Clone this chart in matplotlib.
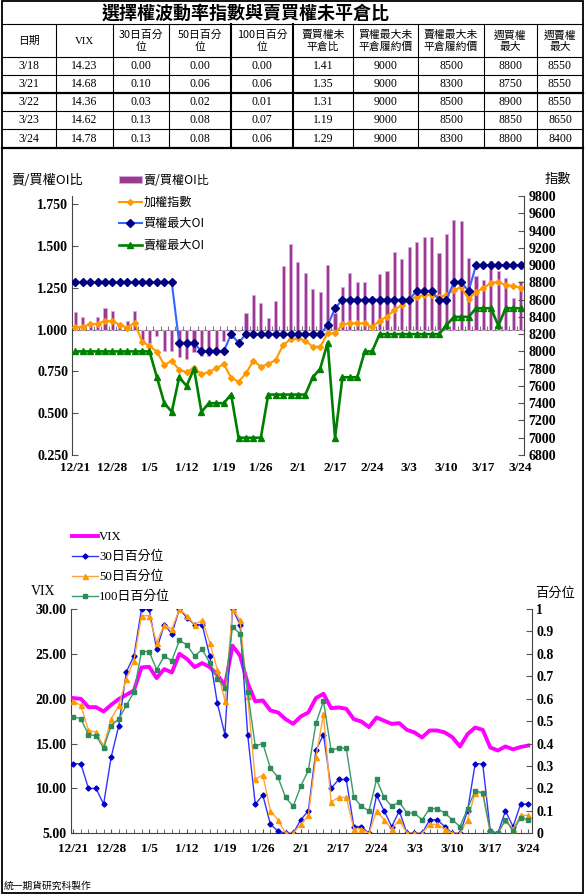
import matplotlib
matplotlib.use("Agg")
import matplotlib.pyplot as plt
from matplotlib.patches import Rectangle
from matplotlib.ticker import FormatStrFormatter, FuncFormatter

SERIF = ["Liberation Serif", "Noto Sans CJK TC"]
CJK = ["Noto Sans CJK TC", "Liberation Serif"]

# trading days 12/21 - 3/24
dates = ["12/21", "12/22", "12/23", "12/24", "12/25", "12/28", "12/29", "12/30", "12/31", "1/4",
         "1/5", "1/6", "1/7", "1/8", "1/11", "1/12", "1/13", "1/14", "1/15", "1/18",
         "1/19", "1/20", "1/21", "1/22", "1/25", "1/26", "1/27", "1/28", "1/29", "1/30",
         "2/1", "2/2", "2/3", "2/15", "2/16", "2/17", "2/18", "2/19", "2/22", "2/23",
         "2/24", "2/25", "2/26", "3/1", "3/2", "3/3", "3/4", "3/7", "3/8", "3/9",
         "3/10", "3/11", "3/14", "3/15", "3/16", "3/17", "3/18", "3/21", "3/22", "3/23",
         "3/24"]

# top chart
pc_ratio = [1.107, 1.077, 1.03, 1.077, 1.128, 1.113, 1.02, 1.052, 1.113, 0.94,
            0.92, 0.965, 0.87, 0.875, 0.835, 0.822, 0.868, 0.842, 0.845, 0.87,
            0.93, 0.95, 0.99, 1.10, 1.21, 1.158, 1.067, 1.17, 1.383, 1.51,
            1.405, 1.342, 1.242, 1.226, 1.386, 1.097, 1.256, 1.34, 1.283, 1.286,
            1.156, 1.332, 1.352, 1.465, 1.421, 1.495, 1.525, 1.555, 1.555, 1.459,
            1.575, 1.654, 1.648, 1.429, 1.322, 1.30, 1.41, 1.35, 1.31, 1.19,
            1.29]
taiex = [8279, 8286, 8314, 8321, 8352, 8352, 8306, 8275, 8333, 8113,
         8063, 7997, 7842, 7892, 7785, 7761, 7811, 7735, 7761, 7804,
         7854, 7696, 7649, 7746, 7893, 7823, 7854, 7900, 8074, 8140,
         8151, 8124, 8055, 8055, 8209, 8209, 8314, 8325, 8325, 8325,
         8279, 8356, 8402, 8480, 8537, 8595, 8634, 8653, 8653, 8626,
         8653, 8711, 8742, 8607, 8692, 8730, 8796, 8804, 8769, 8758,
         8738]
call_max_oi = [8800] * 14 + [8100] * 3 + [8000] * 4 + [8200, 8100] + [8200] * 11 + \
              [8300, 8500] + [8600] * 10 + [8700] * 3 + [8600] * 2 + [8800] * 2 + [8700] + [9000] * 7
put_max_oi = [8000] * 11 + [7700, 7400, 7300, 7700, 7600, 7800, 7300, 7400, 7400, 7400, 7500] + \
             [7000] * 4 + [7500] * 6 + [7700, 7800, 8100, 7000] + [7700] * 3 + [8000] * 2 + \
             [8200] * 9 + [8300] + [8400] * 3 + [8500] * 3 + [8300] + [8500] * 3

# bottom chart
vix = [20.07, 19.99, 19.06, 19.06, 18.58, 19.32, 19.96, 20.44, 20.92, 23.49,
       23.56, 22.30, 23.30, 22.93, 25.01, 24.42, 23.53, 23.97, 23.53, 22.67,
       21.44, 25.91, 24.79, 21.74, 19.70, 19.81, 18.69, 18.47, 17.72, 17.20,
       18.02, 18.47, 20.07, 20.55, 18.95, 19.03, 18.88, 17.72, 17.46, 16.83,
       17.91, 17.54, 17.20, 17.28, 16.53, 16.24, 15.68, 16.46, 16.46, 16.24,
       15.71, 14.67, 16.05, 16.79, 16.53, 14.56, 14.23, 14.68, 14.36, 14.62,
       14.78]
pct30 = [0.31, 0.31, 0.20, 0.20, 0.13, 0.34, 0.48, 0.72, 0.79, 1.0,
         1.0, 0.82, 0.93, 0.89, 1.0, 0.96, 0.93, 0.93, 0.79, 0.58,
         0.44, 1.0, 0.93, 0.44, 0.13, 0.17, 0.04, 0.01, 0.0, 0.0,
         0.06, 0.10, 0.37, 0.44, 0.20, 0.24, 0.24, 0.03, 0.03, 0.0,
         0.17, 0.10, 0.03, 0.10, 0.0, 0.0, 0.0, 0.06, 0.06, 0.03,
         0.0, 0.0, 0.10, 0.31, 0.31, 0.01, 0.00, 0.10, 0.03, 0.13,
         0.13]
pct50 = [0.59, 0.57, 0.46, 0.45, 0.39, 0.51, 0.57, 0.69, 0.77, 0.97,
         0.97, 0.85, 0.93, 0.91, 1.0, 0.97, 0.93, 0.95, 0.85, 0.73,
         0.59, 1.0, 0.95, 0.61, 0.24, 0.26, 0.10, 0.06, 0.0, 0.0,
         0.04, 0.08, 0.34, 0.53, 0.14, 0.16, 0.16, 0.02, 0.02, 0.0,
         0.10, 0.06, 0.02, 0.06, 0.0, 0.0, 0.0, 0.04, 0.04, 0.02,
         0.0, 0.0, 0.06, 0.18, 0.18, 0.0, 0.00, 0.06, 0.02, 0.08,
         0.08]
pct100 = [0.52, 0.51, 0.44, 0.435, 0.38, 0.48, 0.51, 0.57, 0.63, 0.81,
          0.81, 0.73, 0.79, 0.77, 0.86, 0.84, 0.79, 0.82, 0.76, 0.69,
          0.65, 0.92, 0.89, 0.63, 0.39, 0.40, 0.29, 0.25, 0.16, 0.12,
          0.21, 0.28, 0.49, 0.59, 0.37, 0.38, 0.38, 0.16, 0.12, 0.10,
          0.24, 0.16, 0.12, 0.14, 0.09, 0.09, 0.06, 0.11, 0.11, 0.09,
          0.06, 0.03, 0.11, 0.19, 0.18, 0.01, 0.00, 0.06, 0.01, 0.07,
          0.06]

# table at top
tbl_headers = ["日期", "VIX", "30日百分\n位", "50日百分\n位", "100日百分\n位", "賣買權未\n平倉比",
               "買權最大未\n平倉履約價", "賣權最大未\n平倉履約價", "週買權\n最大", "週賣權\n最大"]
tbl_dates = ["3/18", "3/21", "3/22", "3/23", "3/24"]
tbl_vix = [14.23, 14.68, 14.36, 14.62, 14.78]
tbl_p30 = [0.00, 0.10, 0.03, 0.13, 0.13]
tbl_p50 = [0.00, 0.06, 0.02, 0.08, 0.08]
tbl_p100 = [0.00, 0.06, 0.01, 0.07, 0.06]
tbl_pc = [1.41, 1.35, 1.31, 1.19, 1.29]
tbl_call = [9000, 9000, 9000, 9000, 9000]
tbl_put = [8500, 8300, 8500, 8500, 8300]
tbl_wcall = [8800, 8750, 8900, 8850, 8800]
tbl_wput = [8550, 8550, 8550, 8650, 8400]

W, H = 586, 896
fig = plt.figure(figsize=(W / 100, H / 100), dpi=100)

# ---- background: frame, table, footer (pixel coords)
bg = fig.add_axes([0, 0, 1, 1])
bg.set_xlim(0, W)
bg.set_ylim(H, 0)
bg.axis("off")
bg.add_patch(Rectangle((1.5, 1.5), 581.5, 891.5, fill=False, lw=1.3, ec="black"))

col_edges = [1.5, 56, 113, 169, 231, 293, 353, 418, 484, 537, 583]
row_edges = [1.5, 24, 57, 75, 93, 111, 129.5, 148]
for y in row_edges[1:]:
    lw = 1.6 if y in (93, 148) else 0.8
    bg.plot([1.5, 583], [y, y], color="black", lw=lw)
for c in col_edges[1:-1]:
    lw = 1.5 if c in (231, 293) else 0.8
    bg.plot([c, c], [24, 148], color="black", lw=lw)

bg.text(246, 13, "選擇權波動率指數與賣買權未平倉比", family=CJK, fontsize=13,
        fontweight="bold", ha="center", va="center")
for j, h in enumerate(tbl_headers):
    cx = (col_edges[j] + col_edges[j + 1]) / 2
    fam = SERIF if h == "VIX" else CJK
    bg.text(cx, 41, h, family=fam, fontsize=7.8, ha="center", va="center", linespacing=1.25)

rows = []
for r in range(len(tbl_dates)):
    rows.append([tbl_dates[r], f"{tbl_vix[r]:.2f}", f"{tbl_p30[r]:.2f}", f"{tbl_p50[r]:.2f}",
                 f"{tbl_p100[r]:.2f}", f"{tbl_pc[r]:.2f}", str(tbl_call[r]), str(tbl_put[r]),
                 str(tbl_wcall[r]), str(tbl_wput[r])])
for r, row in enumerate(rows):
    cy = (row_edges[r + 2] + row_edges[r + 3]) / 2
    for j, val in enumerate(row):
        cx = (col_edges[j] + col_edges[j + 1]) / 2
        bg.text(cx, cy, val, family=SERIF, fontsize=8.5, ha="center", va="center")

bg.text(4, 886, "統一期貨研究科製作", family=CJK, fontsize=7, ha="left", va="center")

x = list(range(len(dates)))
xlabels = [dates[i] for i in range(0, len(dates), 5)]
ytick_font = dict(family=SERIF, fontsize=10, fontweight="bold")
xtick_font = dict(family=SERIF, fontsize=9.5, fontweight="bold")

# ---- top chart
ax1 = fig.add_axes([72.3 / W, 1 - 455 / H, 452 / W, 259 / H])
bars = ax1.bar(x, [v - 1 for v in pc_ratio], bottom=1, width=0.42, color="#9A3B8E",
               edgecolor="#DDA8E6", linewidth=0.6, label="賣/買權OI比", zorder=2)
ax1.set_xlim(-0.4, 60.5)
ax1.set_ylim(0.25, 1.8)
ax1.set_yticks([0.25, 0.5, 0.75, 1.0, 1.25, 1.5, 1.75])
ax1.yaxis.set_major_formatter(FormatStrFormatter("%.3f"))
ax1.set_xticks(range(0, len(dates), 5))
ax1.set_xticklabels(xlabels)
ax1.tick_params(axis="x", length=0, pad=5)
ax1.tick_params(axis="y", direction="in", length=4, color="#555555", pad=3)
for lab in ax1.get_xticklabels():
    lab.set(**xtick_font)
for lab in ax1.get_yticklabels():
    lab.set(**ytick_font)
for s in ("top", "bottom", "right"):
    ax1.spines[s].set_visible(False)
ax1.spines["left"].set_color("#444444")

base = ax1.secondary_xaxis((1.0 - 0.25) / (1.8 - 0.25))
base.set_xticks([i + 0.5 for i in range(-1, len(dates))])
base.tick_params(direction="in", length=3, color="#808080", labelbottom=False, labeltop=False)
for s in base.spines.values():
    s.set_color("#808080")

ax2 = ax1.twinx()
ln_idx, = ax2.plot(x, taiex, color="#FF9900", lw=1.5, marker="D", ms=3, mec="#FF9900",
                   mfc="#FF9900", label="加權指數")
ln_call, = ax2.plot(x, call_max_oi, color="#3366FF", lw=1.5, marker="D", ms=4.2, mec="#000080",
                    mfc="#000080", label="買權最大OI")
ln_put, = ax2.plot(x, put_max_oi, color="#008000", lw=1.9, marker="^", ms=5, mec="#008000",
                   mfc="#008000", label="賣權最大OI")
ax2.set_ylim(6800, 9800)
ax2.set_yticks(range(6800, 9801, 200))
ax2.tick_params(axis="y", direction="in", length=4, color="#555555", pad=3)
for lab in ax2.get_yticklabels():
    lab.set(**ytick_font)
for s in ("top", "bottom", "left"):
    ax2.spines[s].set_visible(False)
ax2.spines["right"].set_color("#444444")

fig.text(47 / W, 1 - 180 / H, "賣/買權OI比", family=CJK, fontsize=9.5, ha="center", va="center")
fig.text(558 / W, 1 - 179 / H, "指數", family=CJK, fontsize=9.5, ha="center", va="center")
fig.legend(handles=[bars, ln_idx, ln_call, ln_put], loc="upper left",
           bbox_to_anchor=(119 / W, 1 - 174 / H), frameon=False, prop=dict(family=CJK, size=8.7),
           handlelength=1.9, handletextpad=0.15, labelspacing=0.72, borderpad=0, borderaxespad=0,
           numpoints=1, handleheight=0.55)

# ---- bottom chart
ax3 = fig.add_axes([71 / W, 1 - 833.3 / H, 461 / W, 224.3 / H])
ln_vix, = ax3.plot(x, vix, color="#FF00FF", lw=2.8, label="VIX", zorder=3)
ax3.set_xlim(-0.3, 60.5)
ax3.set_ylim(5, 30)
ax3.set_yticks(range(5, 31, 5))
ax3.yaxis.set_major_formatter(FormatStrFormatter("%.2f"))
ax3.set_xticks(range(0, len(dates), 5))
ax3.set_xticklabels(xlabels)
ax3.set_xticks(x, minor=True)
ax3.tick_params(axis="x", which="both", direction="in", length=3, color="#555555", pad=7)
ax3.tick_params(axis="y", direction="in", length=4, color="#555555", pad=3)
for lab in ax3.get_xticklabels():
    lab.set(**xtick_font)
for lab in ax3.get_yticklabels():
    lab.set(**ytick_font)
ax3.spines["top"].set_visible(False)
ax3.spines["right"].set_visible(False)
ax3.spines["left"].set_color("#444444")
ax3.spines["bottom"].set_color("#444444")

ax4 = ax3.twinx()
ln30, = ax4.plot(x, pct30, color="#3333FF", lw=1.0, marker="D", ms=2.6, mec="#0000CC",
                 mfc="#0000CC", label="30日百分位")
ln50, = ax4.plot(x, pct50, color="#FFA53A", lw=1.0, marker="^", ms=3.6, mec="#FF9900",
                 mfc="#FF9900", label="50日百分位")
ln100, = ax4.plot(x, pct100, color="#3A9A6A", lw=1.0, marker="s", ms=3.2, mec="#2E8B57",
                  mfc="#2E8B57", label="100日百分位")
ax4.set_ylim(0, 1)
ax4.set_yticks([i / 10 for i in range(11)])
ax4.yaxis.set_major_formatter(FuncFormatter(lambda v, p: f"{v:g}"))
ax4.tick_params(axis="y", direction="in", length=4, color="#555555", pad=3)
for lab in ax4.get_yticklabels():
    lab.set(**ytick_font)
for s in ("top", "bottom", "left"):
    ax4.spines[s].set_visible(False)
ax4.spines["right"].set_color("#444444")

fig.text(43 / W, 1 - 591 / H, "VIX", family=SERIF, fontsize=10, ha="center", va="center")
fig.text(555 / W, 1 - 593 / H, "百分位", family=CJK, fontsize=9.5, ha="center", va="center")
fig.legend(handles=[ln_vix, ln30, ln50, ln100], loc="upper left",
           bbox_to_anchor=(72 / W, 1 - 531 / H), frameon=False, prop=dict(family=SERIF, size=9.3),
           handlelength=2.0, handletextpad=0.1, labelspacing=0.58, borderpad=0, borderaxespad=0,
           numpoints=1)

fig.savefig("out.png", dpi=100)
